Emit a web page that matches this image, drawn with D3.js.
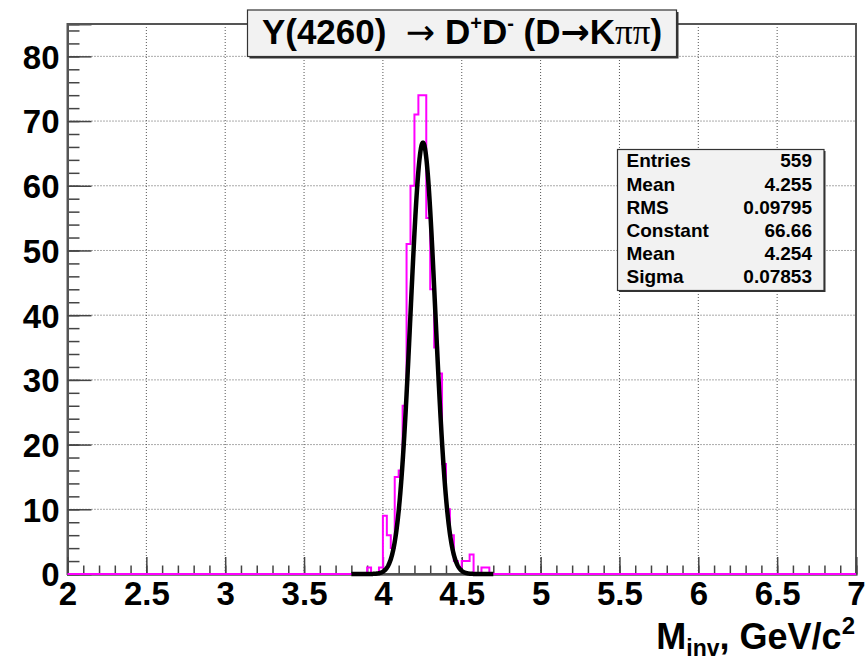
<!DOCTYPE html>
<html><head><meta charset="utf-8">
<script src="https://cdn.jsdelivr.net/npm/d3@7"></script>
<style>
body{margin:0;background:#fff}
svg{display:block}
text{font-family:"Liberation Sans",Arial,Helvetica,sans-serif;font-weight:bold;fill:#000}
</style>
</head><body>
<svg id="c" width="867" height="663"></svg>
<script>
// ---- data ----
const histRange = [2, 7];
const binWidth = 0.025;
const binLowEdges = [3.900,3.925,3.950,3.975,4.000,4.025,4.050,4.075,4.100,4.125,4.150,4.175,4.200,4.225,4.250,4.275,4.300,4.325,4.350,4.375,4.400,4.425,4.450,4.475,4.500,4.525,4.550,4.575,4.600,4.625,4.650];
const binCounts   = [1,0,0,1,9,6,4,15,16,26,51,60,71,74,74,55,44,35,31,17,10,6,2,1,2,2,3,0,0,1,1];
const xTickValues = [2,2.5,3,3.5,4,4.5,5,5.5,6,6.5,7];
const xTickLabels = ["2","2.5","3","3.5","4","4.5","5","5.5","6","6.5","7"];
const yTickValues = [0,10,20,30,40,50,60,70,80];
const yTickLabels = ["0","10","20","30","40","50","60","70","80"];
const yDomain = [0, 85];
const statNames  = ["Entries","Mean","RMS","Constant","Mean","Sigma"];
const statValues = ["559","4.255","0.09795","66.66","4.254","0.07853"];
const fitConstant = 66.66, fitMean = 4.254, fitSigma = 0.07853;
const fitRange = [3.8, 4.7];

// ---- layout ----
const svg = d3.select("#c");
const L = 67.5, R = 856, T = 24, B = 574;
const x = d3.scaleLinear().domain(histRange).range([L, R]);
const y = d3.scaleLinear().domain(yDomain).range([B, T]);

// gridlines
const grid = svg.append("g").attr("stroke", "#555").attr("stroke-width", 1).attr("stroke-dasharray", "1,2");
grid.selectAll("line.gx").data(xTickValues.filter(v => v > histRange[0] && v < histRange[1]))
  .join("line").attr("x1", d => x(d)).attr("x2", d => x(d)).attr("y1", B).attr("y2", T);
grid.selectAll("line.gy").data(yTickValues.filter(v => v > 0))
  .join("line").attr("x1", L).attr("x2", R).attr("y1", d => y(d)).attr("y2", d => y(d));

// frame
svg.append("rect").attr("x", L).attr("y", T).attr("width", R - L).attr("height", B - T)
  .attr("fill", "none").attr("stroke", "#555").attr("stroke-width", 2);

// axes
const axisFont = 33;
const yMinor = d3.range(0, 85, 2);
const xMinor = d3.range(20, 71, 1).map(v => v / 10);
const gy = svg.append("g").attr("transform", `translate(${L},0)`);
gy.call(d3.axisLeft(y).tickValues(yMinor).tickSize(-12).tickFormat(""));
const gy2 = svg.append("g").attr("transform", `translate(${L},0)`);
gy2.call(d3.axisLeft(y).tickValues(yTickValues).tickSize(-24).tickPadding(8)
  .tickFormat((d, i) => yTickLabels[i]));
const gx = svg.append("g").attr("transform", `translate(0,${B})`);
gx.call(d3.axisBottom(x).tickValues(xMinor).tickSize(-8.5).tickFormat(""));
const gx2 = svg.append("g").attr("transform", `translate(0,${B})`);
gx2.call(d3.axisBottom(x).tickValues(xTickValues).tickSize(-17).tickPadding(8)
  .tickFormat((d, i) => xTickLabels[i]));
svg.selectAll(".domain").attr("stroke", "#555").attr("stroke-width", 2);
svg.selectAll(".tick line").attr("stroke", "#444").attr("stroke-width", 1.5);
svg.selectAll(".tick text").attr("font-size", axisFont).attr("font-family", '"Liberation Sans",Arial,sans-serif')
  .attr("font-weight", "bold").attr("fill", "#000");
gy2.selectAll(".tick text").attr("dy", "0.36em");
gx2.selectAll(".tick text").attr("dy", "0.71em");

// histogram (step outline)
const pts = [[histRange[0], 0]];
binLowEdges.forEach((e, i) => pts.push([e, binCounts[i]]));
pts.push([binLowEdges[binLowEdges.length - 1] + binWidth, 0]);
pts.push([histRange[1], 0]);
svg.append("path").datum(pts)
  .attr("d", d3.line().x(d => x(d[0])).y(d => y(d[1])).curve(d3.curveStepAfter))
  .attr("fill", "none").attr("stroke", "#ff00ff").attr("stroke-width", 2);

// fit function (Gaussian with the fitted parameters)
const fitX = d3.range(fitRange[0], fitRange[1] + 1e-9, 0.002);
svg.append("path").datum(fitX)
  .attr("d", d3.line().x(d => x(d)).y(d => y(fitConstant * Math.exp(-0.5 * Math.pow((d - fitMean) / fitSigma, 2)))))
  .attr("fill", "none").attr("stroke", "#000").attr("stroke-width", 4.5).attr("stroke-linejoin", "round");

// stats box
const sb = {x0: 617.5, y0: 149.5, x1: 824, y1: 290.5};
svg.append("rect").attr("x", sb.x0 + 1.5).attr("y", sb.y0 + 1.5).attr("width", sb.x1 - sb.x0).attr("height", sb.y1 - sb.y0).attr("fill", "#333");
svg.append("rect").attr("x", sb.x0).attr("y", sb.y0).attr("width", sb.x1 - sb.x0).attr("height", sb.y1 - sb.y0)
  .attr("fill", "#f2f2f2").attr("stroke", "#333").attr("stroke-width", 1.2);
statNames.forEach((n, i) => {
  const by = 167.3 + i * 23.2;
  svg.append("text").attr("x", 626.5).attr("y", by).attr("font-size", 19).text(n);
  svg.append("text").attr("x", 812).attr("y", by).attr("font-size", 19).attr("text-anchor", "end").text(statValues[i]);
});

// title box
const tb = {x0: 247.5, y0: 10, x1: 676.5, y1: 56.5};
svg.append("rect").attr("x", tb.x0 + 2).attr("y", tb.y0 + 2).attr("width", tb.x1 - tb.x0).attr("height", tb.y1 - tb.y0).attr("fill", "#333");
svg.append("rect").attr("x", tb.x0).attr("y", tb.y0).attr("width", tb.x1 - tb.x0).attr("height", tb.y1 - tb.y0)
  .attr("fill", "#f2f2f2").attr("stroke", "#333").attr("stroke-width", 1.2);
const tt = svg.append("text").attr("x", (tb.x0 + tb.x1) / 2).attr("y", 44).attr("text-anchor", "middle").attr("font-size", 35);
tt.append("tspan").text("Y(4260)\u00a0\u00a0");
tt.append("tspan").attr("font-family", '"DejaVu Sans",sans-serif').attr("font-weight", "normal").text("\u2192");
tt.append("tspan").text("\u00a0D");
tt.append("tspan").attr("font-size", 20).attr("dy", -14).text("+");
tt.append("tspan").attr("dy", 14).text("D");
tt.append("tspan").attr("font-size", 20).attr("dy", -14).text("-");
tt.append("tspan").attr("dy", 14).text("\u00a0(D");
tt.append("tspan").attr("font-family", '"DejaVu Sans",sans-serif').text("\u2192");
tt.append("tspan").text("K");
tt.append("tspan").attr("font-family", '"Liberation Serif",serif').attr("font-weight", "normal").text("\u03c0\u03c0");
tt.append("tspan").text(")");

// x axis title
const xt = svg.append("text").attr("x", 855).attr("y", 649).attr("text-anchor", "end").attr("font-size", 36);
xt.append("tspan").text("M");
xt.append("tspan").attr("font-size", 23).attr("dy", 7).text("inv");
xt.append("tspan").attr("dy", -7).text(", GeV/c");
xt.append("tspan").attr("font-size", 24).attr("dy", -15).text("2");
</script>
</body></html>
